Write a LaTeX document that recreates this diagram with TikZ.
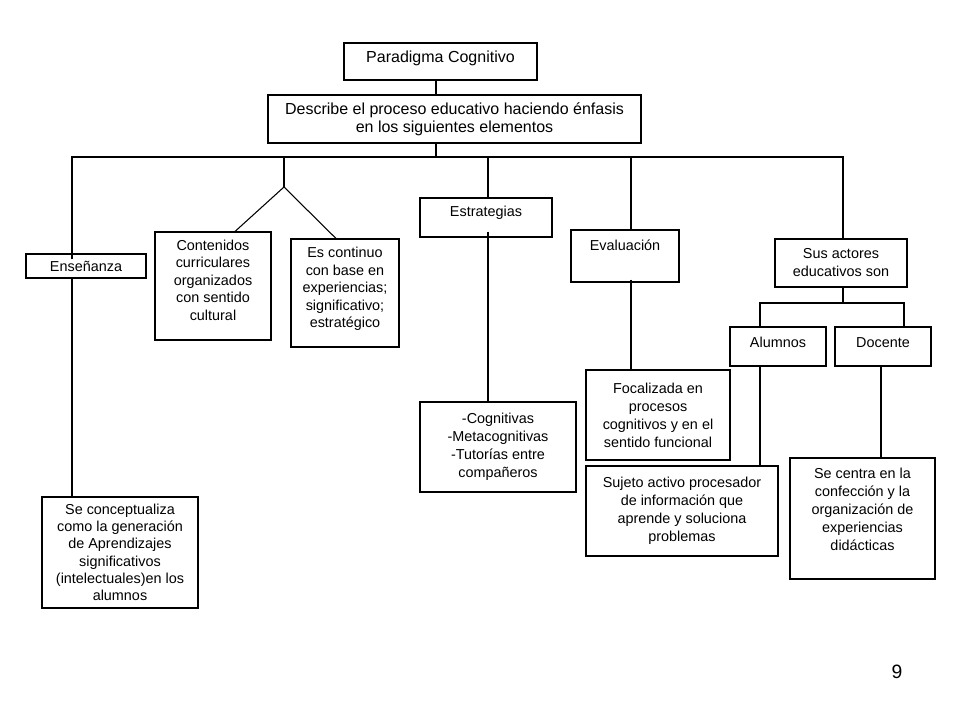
\documentclass[tikz,border=0pt]{standalone}
\usepackage{fontspec}
\setmainfont{Liberation Sans}
\usetikzlibrary{calc}

\tikzset{
	box/.style={draw, line width=0.8pt, align=center, inner sep=2pt, font=\fontsize{10.8}{13.5}\selectfont},
	sz/.style 2 args={minimum width=#1*0.75pt, minimum height=#2*0.75pt},
}

\begin{document}
\begin{tikzpicture}[x=0.75pt, y=-0.75pt, line width=0.8pt]
		%%%%% START %%%%%
		\useasboundingbox (0,0) rectangle (960,720);
		
		\node[box, sz={193}{37}, font=\fontsize{12}{13.7}\selectfont, text depth=7pt] (parad) at (440.5,61.5) {Paradigma Cognitivo};
		\node[box, sz={373}{48}, font=\fontsize{12}{13.7}\selectfont] (desc) at (454.5,119) {Describe el proceso educativo haciendo énfasis\\en los siguientes elementos};
		
		\node[box, sz={120}{24}] (ense) at (86,266) {Enseñanza};
		\node[box, sz={116}{108}, text depth=9pt, font=\fontsize{10.8}{13.1}\selectfont] (cont) at (213,286) {Contenidos\\curriculares\\organizados\\con sentido\\cultural};
		\node[box, sz={108}{108}, text depth=8pt, font=\fontsize{10.8}{13.1}\selectfont] (cont2) at (345,293) {Es continuo\\con base en\\experiencias;\\significativo;\\estratégico};
		\node[box, sz={132}{39}, text depth=10pt] (estr) at (486,217.5) {Estrategias};
		\node[box, sz={108}{52}, text depth=16pt] (eval) at (625,256) {Evaluación};
		\node[box, sz={132}{48}] (actor) at (841,263) {Sus actores\\educativos son};
		\node[box, sz={96}{39}, text height=8pt, text depth=7pt] (alum) at (778,346.5) {Alumnos};
		\node[box, sz={96}{39}, text height=8pt, text depth=7pt] (doc) at (883,346.5) {Docente};
		
		\node[box, sz={156}{90}] (cogn) at (498,447) {-Cognitivas\\-Metacognitivas\\-Tutorías entre\\compañeros};
		\node[box, sz={144}{90}] (foca) at (658,415) {Focalizada en\\procesos\\cognitivos y en el\\sentido funcional};
		\node[box, sz={192}{90}] (suj) at (682,511) {Sujeto activo procesador\\de información que\\aprende y soluciona\\problemas};
		\node[box, sz={145}{121}, text depth=14pt] (centra) at (862.5,518.5) {Se centra en la\\confección y la\\organización de\\experiencias\\didácticas};
		\node[box, sz={156}{111}, font=\fontsize{10.8}{13}\selectfont] (conc) at (120,552.5) {Se conceptualiza\\como la generación\\de Aprendizajes\\significativos\\(intelectuales)en los\\alumnos};
		
		\node[font=\fontsize{14.5}{16}\selectfont] (pnum) at (897,672) {9};
		
		% bus and branch points
		\coordinate (spine) at (436,157);
		\coordinate (busL) at (72,157);
		\coordinate (busR) at (843,157);
		\coordinate (bC) at (284,157);
		\coordinate (fork) at (284,187);
		\coordinate (cTip) at (235,0);
		\coordinate (eTip) at (336,0);
		\coordinate (bE) at (488,157);
		\coordinate (bV) at (631,157);
		\coordinate (split) at (843,303);
		\coordinate (aL) at (760,303);
		\coordinate (dR) at (904,303);
		\coordinate (dD) at (881,0);
		
		\draw (parad.south -| spine) -- (desc.north -| spine);
		\draw (desc.south -| spine) -- (spine);
		\draw ($(ense.north -| busL)+(0,6)$) -- (busL) -- (busR) -- (actor.north -| busR);
		\draw (ense.south -| busL) -- (conc.north -| busL);
		
		\draw (bC) -- (fork);
		\draw (cont.north -| cTip) -- (fork) -- (cont2.north -| eTip);
		
		\draw (bE) -- (estr.north -| bE);
		\draw ($(estr.south -| bE)+(0,-6)$) -- (cogn.north -| bE);
		
		\draw (bV) -- (eval.north -| bV);
		\draw ($(eval.south -| bV)+(0,-3)$) -- (foca.north -| bV);
		
		\draw (actor.south -| split) -- (split);
		\draw (alum.north -| aL) -- (aL) -- (dR) -- (doc.north -| dR);
		\draw (alum.south -| aL) -- (suj.north -| aL);
		\draw (doc.south -| dD) -- (centra.north -| dD);
		
		%%%%% END %%%%%
\end{tikzpicture}
\end{document}
